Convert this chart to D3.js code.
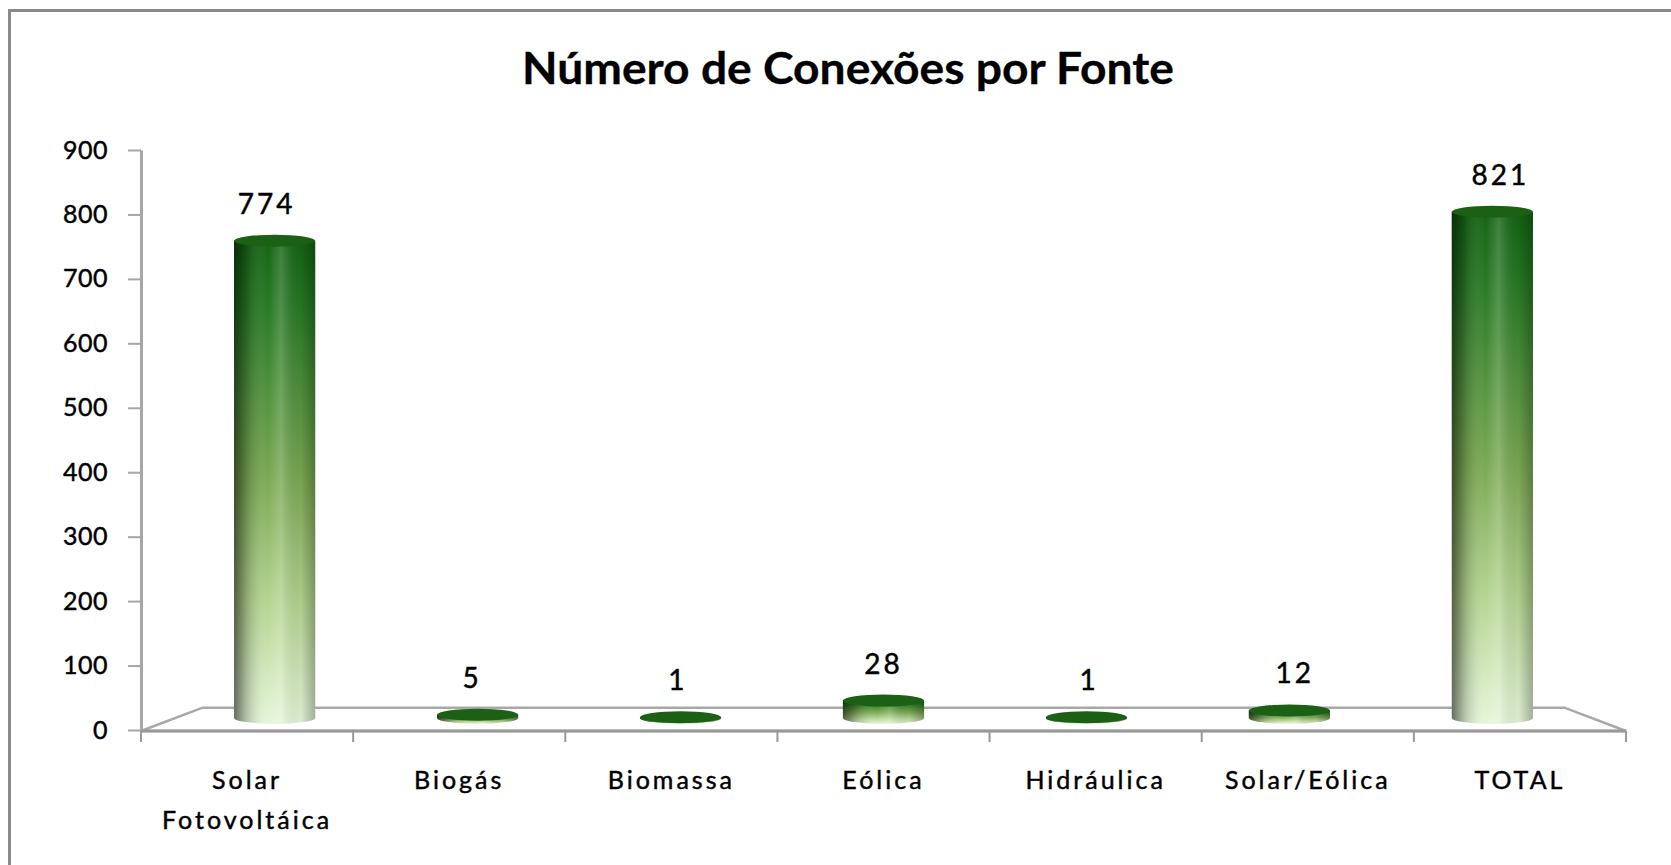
<!DOCTYPE html>
<html lang="pt">
<head>
  <meta charset="UTF-8">
  <title>Número de Conexões por Fonte</title>
  <style>
    html, body { margin: 0; background: #fff; overflow: hidden; }
    svg { display: block; }
    svg text { font-family: Lato, 'Open Sans', sans-serif; fill: #000; stroke: #000; stroke-width: 0.45px; }
    .axis path, .axis line { stroke: #a6a6a6; }
    .axis text { font-size: 25px; letter-spacing: 0.5px; fill: #000; }
    .cat { font-size: 25px; letter-spacing: 3px; }
    .val { font-size: 28px; letter-spacing: 3px; }
  </style>
</head>
<body>
<svg id="chart" width="1671" height="865" viewBox="0 0 1671 865"></svg>

<script src="https://cdnjs.cloudflare.com/ajax/libs/d3/7.8.5/d3.min.js"></script>
<script>
const title = "Número de Conexões por Fonte";
const categories = ["Solar Fotovoltáica", "Biogás", "Biomassa", "Eólica", "Hidráulica", "Solar/Eólica", "TOTAL"];
const values = [774, 5, 1, 28, 1, 12, 821];
const yTicks = [0, 100, 200, 300, 400, 500, 600, 700, 800, 900];

const svg = d3.select("#chart");
const plot = {left: 141, right: 1626, top: 150, bottom: 730};

const x = d3.scaleBand().domain(categories).range([plot.left, plot.right]);
const y = d3.scaleLinear().domain([0, 900]).range([plot.bottom, plot.top]);
const bw = x.bandwidth();

// simple perspective for the 3D floor and the cylinders
const vp = {x: (plot.left + plot.right) / 2, y: 450};
const backScale = 0.917;
function depthScale(z) { return 1 / (1 + z * (1 / backScale - 1)); }
function project(px, py, z) {
  const s = depthScale(z);
  return [vp.x + (px - vp.x) * s, vp.y + (py - vp.y) * s];
}

const defs = svg.append("defs");
const gv = defs.append("linearGradient").attr("id", "cylV")
    .attr("x1", 0).attr("y1", 0).attr("x2", 0).attr("y2", 1);
[[0, "#146414"], [0.15, "#2a7b27"], [0.5, "#7caa55"], [0.75, "#b5d592"], [1, "#e6f6da"]]
  .forEach(d => gv.append("stop").attr("offset", d[0]).attr("stop-color", d[1]));

const gh = defs.append("linearGradient").attr("id", "cylH")
    .attr("x1", 0).attr("y1", 0).attr("x2", 1).attr("y2", 0);
[[0, "#000", 0.55], [0.15, "#000", 0.22], [0.42, "#fff", 0], [0.58, "#fff", 0.18], [0.82, "#000", 0.04], [1, "#000", 0.28]]
  .forEach(d => gh.append("stop").attr("offset", d[0]).attr("stop-color", d[1]).attr("stop-opacity", d[2]));

// outer chart border
svg.append("rect")
    .attr("x", 9.5).attr("y", 10.5)
    .attr("width", 1720).attr("height", 900)
    .attr("fill", "none").attr("stroke", "#8a8a8a").attr("stroke-width", 3);

svg.append("text")
    .attr("x", 848).attr("y", 84)
    .attr("text-anchor", "middle")
    .attr("font-size", 44).attr("font-weight", 700)
    .attr("textLength", 652).attr("lengthAdjust", "spacingAndGlyphs")
    .style("stroke-width", "0.3px")
    .text(title);

// floor
const fl = project(plot.left, y(0) + 1, 0),
    fr = project(plot.right, y(0) + 1, 0),
    br = project(plot.right, y(0) + 1, 1),
    bl = project(plot.left, y(0) + 1, 1);

svg.append("path")
    .attr("d", "M" + [fl, bl, br, fr].join("L") + "Z")
    .attr("fill", "#fff").attr("stroke", "#a8a8a8").attr("stroke-width", 2.5);

svg.append("line")
    .attr("x1", fl[0]).attr("y1", fl[1]).attr("x2", fr[0]).attr("y2", fr[1])
    .attr("stroke", "#999").attr("stroke-width", 3);

// y axis
const yAxis = svg.append("g")
    .attr("class", "axis")
    .attr("transform", "translate(" + plot.left + ",0)")
    .call(d3.axisLeft(y).tickValues(yTicks).tickSize(13).tickSizeOuter(0).tickPadding(20));
yAxis.select(".domain").attr("stroke-width", 3);
yAxis.selectAll(".tick line").attr("stroke-width", 2);

// category ticks along the front edge
const bounds = categories.map(c => x(c)).concat([plot.right]);
svg.append("g").selectAll("line")
  .data(bounds)
  .join("line")
    .attr("x1", d => d).attr("x2", d => d)
    .attr("y1", y(0) + 1).attr("y2", y(0) + 12)
    .attr("stroke", "#999").attr("stroke-width", 2);

// category labels
svg.append("g").selectAll("text")
  .data(categories)
  .join("text")
    .attr("class", "cat")
    .attr("text-anchor", "middle")
    .each(function (c) {
      const words = c.split(" ");
      d3.select(this).selectAll("tspan")
        .data(words)
        .join("tspan")
          .attr("x", x(c) + bw / 2)
          .attr("y", (w, i) => y(0) + 59 + i * 40)
          .text(w => w);
    });

// cylinders
const ry = 6;
const bars = svg.append("g").selectAll("g")
  .data(categories.map((c, i) => ({cat: c, value: values[i]})))
  .join("g");

bars.each(function (d) {
  const g = d3.select(this);
  const fx = x(d.cat) + bw / 2;
  const s = depthScale(0.5);
  const [cx, baseY] = project(fx, y(0), 0.5);
  const topY = project(fx, y(d.value), 0.5)[1];
  const rx = bw * 0.2 * s;
  const body = "M" + (cx - rx) + "," + topY + "L" + (cx - rx) + "," + baseY +
    "A" + rx + "," + ry + " 0 0 0 " + (cx + rx) + "," + baseY +
    "L" + (cx + rx) + "," + topY + "Z";
  g.append("path").attr("d", body).attr("fill", "url(#cylV)");
  g.append("path").attr("d", body).attr("fill", "url(#cylH)");
  g.append("ellipse")
      .attr("cx", cx).attr("cy", topY)
      .attr("rx", rx).attr("ry", ry)
      .attr("fill", "#1b6015");

  const lx = project(fx, y(d.value), 0.35)[0];
  g.append("text")
      .attr("class", "val")
      .attr("x", lx).attr("y", topY - ry - 21)
      .attr("text-anchor", "middle")
      .text(d.value);
});
</script>
</body>
</html>
